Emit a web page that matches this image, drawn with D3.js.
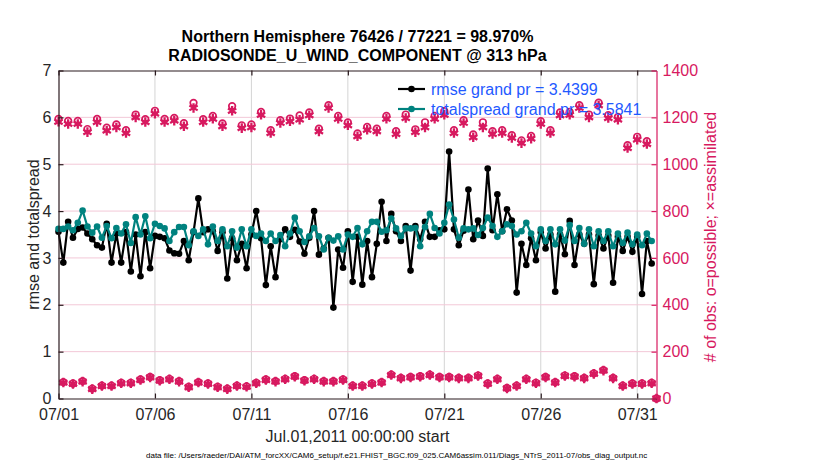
<!DOCTYPE html>
<html><head><meta charset="utf-8">
<script src="https://cdn.jsdelivr.net/npm/d3@7"></script>
<style>body{margin:0;background:#fff}svg{display:block;font-family:"Liberation Sans",Arial,Helvetica,sans-serif}</style>
</head><body><svg id="c" width="830" height="470"></svg>
<script>
const titleLines = ["Northern Hemisphere 76426 / 77221 = 98.970%", "RADIOSONDE_U_WIND_COMPONENT @ 313 hPa"];
const xTickLabels = ["07/01","07/06","07/11","07/16","07/21","07/26","07/31"];
const yLeftTicks = [0,1,2,3,4,5,6,7];
const yRightTicks = [0,200,400,600,800,1000,1200,1400];
const legendLabels = ["rmse grand pr = 3.4399", "totalspread grand pr = 3.5841"];
const xLabel = "Jul.01,2011 00:00:00 start";
const yLeftLabel = "rmse and totalspread";
const yRightLabel = "# of obs: o=possible; \u00d7=assimilated";
const fileNote = "data file: /Users/raeder/DAI/ATM_forcXX/CAM6_setup/f.e21.FHIST_BGC.f09_025.CAM6assim.011/Diags_NTrS_2011-07/obs_diag_output.nc";

// 6-hourly values starting 2011-07-01 00Z
const rmse = [3.56,2.90,3.77,3.43,3.62,3.65,3.52,3.40,3.27,3.22,
3.73,2.90,3.52,2.90,3.55,2.71,3.50,2.61,3.55,2.78,
3.47,3.45,3.42,3.16,3.10,3.09,3.36,2.95,3.55,4.27,
3.55,3.61,3.57,3.15,3.55,2.56,3.42,2.95,3.30,2.78,
3.50,4.00,3.42,2.42,3.25,2.59,3.40,3.61,3.45,3.60,
3.35,3.09,3.43,4.00,3.07,3.20,3.43,1.94,3.18,2.79,
3.57,2.49,3.45,2.43,3.36,2.59,3.30,4.20,3.36,3.94,
3.57,3.36,3.68,2.73,3.68,3.40,3.77,3.45,3.45,3.59,
3.61,5.27,3.61,3.27,3.58,4.46,3.40,3.80,3.47,4.91,
3.59,4.36,3.57,4.04,3.80,2.26,3.30,2.85,3.42,2.95,
3.55,3.20,3.50,2.28,3.50,3.08,3.79,2.85,3.50,3.30,
3.50,2.44,3.48,3.20,3.48,2.47,3.45,3.15,3.45,3.13,
3.45,2.23,3.36,2.88];
const totalspread = [3.62,3.62,3.67,3.59,3.75,4.01,3.67,3.54,3.67,3.43,
3.68,3.42,3.64,3.52,3.72,3.32,3.87,3.50,3.89,3.42,
3.73,3.68,3.63,3.36,3.55,3.66,3.66,3.27,3.57,3.47,
3.61,3.29,3.67,3.36,3.61,3.25,3.57,3.22,3.61,3.25,
3.61,3.47,3.52,3.36,3.52,3.36,3.49,3.25,3.52,3.86,
3.57,3.34,3.46,3.64,3.46,3.18,3.43,3.37,3.46,3.18,
3.50,3.45,3.64,3.29,3.57,3.77,3.77,3.56,3.59,3.84,
3.63,3.47,3.63,3.63,3.64,3.25,3.66,3.94,3.64,3.52,
3.75,4.14,3.82,3.43,3.63,3.61,3.63,3.49,3.64,3.86,
3.68,3.45,3.57,3.72,3.68,3.50,3.57,3.75,3.52,3.25,
3.61,3.36,3.61,3.29,3.61,3.37,3.70,3.36,3.64,3.30,
3.61,3.25,3.57,3.36,3.57,3.25,3.52,3.32,3.54,3.29,
3.50,3.27,3.52,3.36];
const obsPossible = [1193,70,1185,64,1185,74,1150,42,1193,55,
1156,55,1170,67,1145,67,1212,81,1192,92,
1228,78,1193,84,1198,74,1175,50,1262,70,
1192,64,1206,50,1174,42,1248,55,1166,52,
1170,67,1223,81,1145,74,1188,84,1195,95,
1208,78,1221,84,1152,74,1252,74,1206,81,
1178,55,1131,55,1159,64,1152,70,1206,102,
1141,88,1212,92,1149,95,1179,102,1206,92,
1226,92,1145,88,1188,88,1127,98,1179,64,
1141,84,1145,45,1124,55,1102,84,1121,67,
1184,92,1145,70,1221,98,1223,95,1252,88,
1212,107,1263,121,1209,88,1202,55,1081,64,
1117,64,1098,67,0];
const obsAssimilated = [1181,68,1172,62,1172,72,1137,40,1180,53,
1143,53,1157,65,1133,65,1200,79,1180,90,
1216,76,1180,82,1186,72,1162,48,1240,68,
1180,62,1194,48,1162,40,1228,53,1154,50,
1157,65,1211,79,1133,72,1176,82,1183,93,
1190,76,1209,82,1140,72,1240,72,1194,79,
1166,53,1119,53,1147,62,1140,68,1194,100,
1129,86,1197,90,1137,93,1157,100,1194,90,
1211,90,1133,86,1176,86,1115,96,1157,62,
1129,82,1133,43,1112,53,1090,82,1109,65,
1172,90,1133,68,1209,96,1211,93,1240,86,
1200,105,1251,119,1197,86,1190,53,1069,62,
1105,62,1086,65,0];

const C_RMSE = "#000000", C_SPREAD = "#00827f", C_OBS = "#d7195f", C_LEG = "#1f5aff";
const svg = d3.select("#c");
svg.append("rect").attr("width",830).attr("height",470).attr("fill","#fff");

const start = new Date(Date.UTC(2011,6,1));
const timeAt = k => d3.utcHour.offset(start, 6*k);
const x = d3.scaleUtc().domain([start, d3.utcDay.offset(start,31)]).range([58.5,656.5]);
const yL = d3.scaleLinear().domain([0,7]).range([398.5,70.5]);
const yR = d3.scaleLinear().domain([0,1400]).range([398.5,70.5]);
const parseTick = s => d3.utcParse("%Y/%m/%d")("2011/" + s);
const tickDates = xTickLabels.map(parseTick);

// grid
const grid = svg.append("g");
grid.selectAll(".vg").data(tickDates.slice(1)).join("line")
  .attr("x1",d=>x(d)).attr("x2",d=>x(d)).attr("y1",yL(0)).attr("y2",yL(7))
  .attr("stroke","#d4d4d4").attr("stroke-width",1);
grid.selectAll(".hg").data(yRightTicks.slice(1,-1)).join("line")
  .attr("x1",x.range()[0]).attr("x2",x.range()[1]).attr("y1",d=>yR(d)).attr("y2",d=>yR(d))
  .attr("stroke","#f3c8d7").attr("stroke-width",1);

// obs markers
const obsG = svg.append("g");
const star = d3.symbol(d3.symbolAsterisk, 64);
obsG.selectAll(".po").data(obsPossible).join("circle")
  .attr("cx",(d,i)=>x(timeAt(i))).attr("cy",d=>yR(d)).attr("r",3.3)
  .attr("fill","none").attr("stroke",C_OBS).attr("stroke-width",1.7);
obsG.selectAll(".as").data(obsAssimilated).join("path")
  .attr("d",star).attr("transform",(d,i)=>`translate(${x(timeAt(i))},${yR(d)})`)
  .attr("fill","none").attr("stroke",C_OBS).attr("stroke-width",2.3);

// lines
function series(vals,color){
  const g = svg.append("g");
  const line = d3.line().x((d,i)=>x(timeAt(i))).y(d=>yL(d));
  g.append("path").datum(vals).attr("d",line).attr("fill","none")
    .attr("stroke",color).attr("stroke-width",2.2).attr("stroke-linejoin","round");
  g.selectAll("circle").data(vals).join("circle")
    .attr("cx",(d,i)=>x(timeAt(i))).attr("cy",d=>yL(d)).attr("r",3.3).attr("fill",color);
}
series(rmse,C_RMSE);
series(totalspread,C_SPREAD);

// axes
const fs = "16px";
const axB = svg.append("g").attr("transform",`translate(0,${yL(0)})`)
  .call(d3.axisBottom(x).tickValues(tickDates).tickFormat(d3.utcFormat("%m/%d")).tickSizeInner(-5).tickSizeOuter(0).tickPadding(10));
const axT = svg.append("g").attr("transform",`translate(0,${yL(7)})`)
  .call(d3.axisTop(x).tickValues(tickDates).tickFormat("").tickSizeInner(-5).tickSizeOuter(0));
const axL = svg.append("g").attr("transform",`translate(${x.range()[0]},0)`)
  .call(d3.axisLeft(yL).tickValues(yLeftTicks).tickFormat(d3.format("d")).tickSizeInner(-5).tickSizeOuter(0).tickPadding(7));
const axR = svg.append("g").attr("transform",`translate(${x.range()[1]},0)`)
  .call(d3.axisRight(yR).tickValues(yRightTicks).tickFormat(d3.format("d")).tickSizeInner(-5).tickSizeOuter(0).tickPadding(6));
[axB,axT,axL].forEach(a=>{
  a.selectAll("path,line").attr("stroke","#2a1a1e").attr("stroke-width",1.2);
  a.selectAll("text").attr("fill","#262626").style("font-size",fs).style("font-family",'"Liberation Sans",Arial,sans-serif');
});
axR.selectAll("path,line").attr("stroke",C_OBS).attr("stroke-width",1.2);
axR.selectAll("text").attr("fill",C_OBS).style("font-size",fs).style("font-family",'"Liberation Sans",Arial,sans-serif');

// titles
svg.append("text").attr("x",357.5).attr("y",42).attr("text-anchor","middle")
  .style("font-size","16px").style("font-weight","bold").text(titleLines[0]);
svg.append("text").attr("x",357.5).attr("y",61).attr("text-anchor","middle")
  .style("font-size","16px").style("font-weight","bold").text(titleLines[1]);
svg.append("text").attr("x",357.5).attr("y",442).attr("text-anchor","middle")
  .attr("fill","#262626").style("font-size","16px").text(xLabel);
svg.append("text").attr("x",146).attr("y",458).attr("text-anchor","start")
  .style("font-size","8px").text(fileNote);
svg.append("text").attr("transform","translate(33,234.5) rotate(-90)").attr("text-anchor","middle")
  .attr("dy","0.35em").attr("fill","#262626").style("font-size","16px").text(yLeftLabel);
svg.append("text").attr("transform","translate(710,237) rotate(-90)").attr("text-anchor","middle")
  .attr("dy","0.35em").attr("fill",C_OBS).style("font-size","16px").text(yRightLabel);

// legend
const leg = svg.append("g");
const legColors = [C_RMSE, C_SPREAD];
legendLabels.forEach((t,i)=>{
  const yy = 89 + i*20;
  leg.append("line").attr("x1",398).attr("x2",425).attr("y1",yy).attr("y2",yy)
    .attr("stroke",legColors[i]).attr("stroke-width",2.2);
  leg.append("circle").attr("cx",411.5).attr("cy",yy).attr("r",3.3).attr("fill",legColors[i]);
  leg.append("text").attr("x",431).attr("y",yy).attr("dy","0.35em")
    .attr("fill",C_LEG).style("font-size","16px").text(t);
});
</script></body></html>
